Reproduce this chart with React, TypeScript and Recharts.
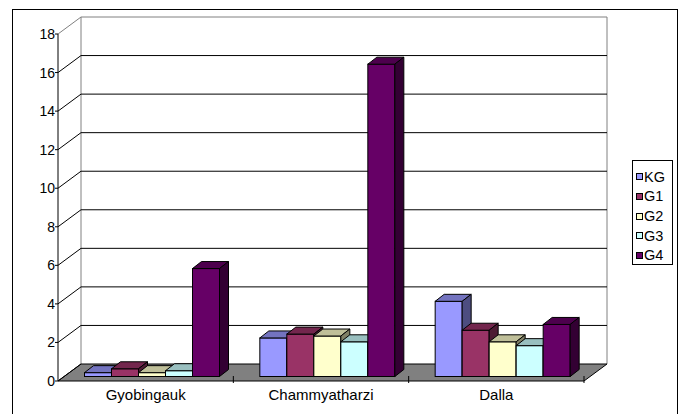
import React from "react";
import { BarChart, Bar, XAxis, YAxis, CartesianGrid, Legend } from "recharts";

const villages = ["Gyobingauk", "Chammyatharzi", "Dalla"];
const kgValues = [0.2, 2.0, 3.9];
const g1Values = [0.4, 2.2, 2.4];
const g2Values = [0.2, 2.1, 1.8];
const g3Values = [0.3, 1.8, 1.6];
const g4Values = [5.6, 16.2, 2.7];
const yTicks = [0, 2, 4, 6, 8, 10, 12, 14, 16, 18];

const series = [
  { name: "KG", values: kgValues, color: "#9999FF" },
  { name: "G1", values: g1Values, color: "#993366" },
  { name: "G2", values: g2Values, color: "#FFFFCC" },
  { name: "G3", values: g3Values, color: "#CCFFFF" },
  { name: "G4", values: g4Values, color: "#660066" },
]
const seriesOrder = series.map((s) => s.name)

const data = villages.map((name, i) => {
  const row: Record<string, string | number> = { name }
  series.forEach((s) => {
    row[s.name] = s.values[i]
  })
  return row
})

const FONT = '"Liberation Sans", Arial, sans-serif'

// oblique depth of the walls / floor
const WALL_DX = 23
const WALL_DY = 17
// where the columns sit inside the floor, and how deep they are
const BAR_SHIFT_X = 6.5
const BAR_SHIFT_Y = 4.5
const BAR_DX = 9
const BAR_DY = 7

function shade(hex: string, f: number) {
  const n = parseInt(hex.slice(1), 16)
  const r = Math.round(((n >> 16) & 255) * f)
  const g = Math.round(((n >> 8) & 255) * f)
  const b = Math.round((n & 255) * f)
  return `rgb(${r},${g},${b})`
}

const Column3D = (props: any) => {
  const { x, y, width, height, fill } = props
  if (x == null || y == null || !width) return null
  const h = Math.max(height || 0, 0)
  const fx = x + BAR_SHIFT_X
  const fy = y - BAR_SHIFT_Y
  const top = `${fx},${fy} ${fx + BAR_DX},${fy - BAR_DY} ${fx + width + BAR_DX},${fy - BAR_DY} ${fx + width},${fy}`
  const side = `${fx + width},${fy} ${fx + width + BAR_DX},${fy - BAR_DY} ${fx + width + BAR_DX},${fy + h - BAR_DY} ${fx + width},${fy + h}`
  return (
    <g>
      <rect x={fx} y={fy} width={width} height={h} fill={fill} stroke="#000" strokeWidth={1} />
      <polygon points={top} fill={shade(fill, 0.75)} stroke="#000" strokeWidth={1} />
      <polygon points={side} fill={shade(fill, 0.5)} stroke="#000" strokeWidth={1} />
    </g>
  )
}

// each value line: back-wall gridline + left-wall diagonal; the floor goes with the 0 line
const renderWallLine = (props: any) => {
  const { x1, x2, y1, y, height, key } = props
  const bottom = y + height
  const isFloor = Math.abs(y1 - bottom) < 0.5
  const isTop = Math.abs(y1 - y) < 0.5
  const lineColor = isTop ? "#808080" : "#000"
  return (
    <g key={key}>
      {isFloor && (
        <>
          <line x1={x1 + WALL_DX} y1={y - WALL_DY} x2={x1 + WALL_DX} y2={bottom - WALL_DY} stroke="#808080" />
          <line x1={x2 + WALL_DX} y1={y - WALL_DY} x2={x2 + WALL_DX} y2={bottom - WALL_DY} stroke="#808080" />
          <polygon
            points={`${x1},${bottom} ${x1 + WALL_DX},${bottom - WALL_DY} ${x2 + WALL_DX},${bottom - WALL_DY} ${x2},${bottom}`}
            fill="#808080"
            stroke="#000"
          />
        </>
      )}
      {!isFloor && (
        <line x1={x1 + WALL_DX} y1={y1 - WALL_DY} x2={x2 + WALL_DX} y2={y1 - WALL_DY} stroke={lineColor} />
      )}
      <line x1={x1} y1={y1} x2={x1 + WALL_DX} y2={y1 - WALL_DY} stroke={lineColor} />
    </g>
  )
}

// small marks between the villages on the front edge of the floor,
// drawn half a band to the right of each category centre
const renderCategoryMark = (props: any) => {
  const { x1, x, y, height, width, key } = props
  const band = width / villages.length
  const pos = (x1 - x) / band
  const isCentre = Math.abs(pos - Math.floor(pos) - 0.5) < 0.05
  if (!isCentre) return <g key={key} />
  const mx = x1 + band / 2
  const bottom = y + height
  return <line key={key} x1={mx} y1={bottom - 5} x2={mx} y2={bottom + 2} stroke="#000" />
}

const LegendBox = (props: any) => {
  const items = [...(props.payload || [])].sort(
    (a: any, b: any) => seriesOrder.indexOf(a.value) - seriesOrder.indexOf(b.value)
  )
  return (
    <div
      style={{
        width: 41,
        height: 105,
        border: "1px solid #000",
        boxSizing: "border-box",
        paddingTop: 6,
        background: "#fff",
        fontFamily: FONT,
        fontSize: 14.5,
        color: "#000",
      }}
    >
      {items.map((item: any) => (
        <div key={item.value} style={{ height: 19.7, display: "flex", alignItems: "center" }}>
          <span
            style={{
              display: "inline-block",
              width: 7,
              height: 7,
              marginLeft: 3,
              border: "1px solid #000",
              boxSizing: "border-box",
              background: item.color,
            }}
          />
          <span style={{ marginLeft: 1, lineHeight: 1 }}>{item.value}</span>
        </div>
      ))}
    </div>
  )
}

export default function App() {
  return (
    <div
      style={{
        position: "absolute",
        left: 0,
        top: 0,
        width: 678,
        height: 414,
        overflow: "hidden",
        background: "#fff",
      }}
    >
      <div
        style={{
          position: "absolute",
          left: 12,
          top: 9,
          width: 666,
          height: 420,
          border: "1px solid #000",
          boxSizing: "border-box",
        }}
      />
      <div style={{ position: "absolute", left: 0, top: 0 }}>
        <BarChart
          width={678}
          height={414}
          data={data}
          margin={{ top: 34, right: 94, left: 8, bottom: 3 }}
          barGap={0}
          barSize={27}
        >
          <CartesianGrid horizontal={renderWallLine} vertical={renderCategoryMark} />
          <XAxis
            dataKey="name"
            axisLine={false}
            tickLine={false}
            tickSize={0}
            tickMargin={8}
            height={30}
            interval={0}
            tick={{ fill: "#000", fontSize: 15, fontFamily: FONT }}
          />
          <YAxis
            domain={[0, 18]}
            ticks={yTicks}
            interval={0}
            width={50}
            tickSize={3}
            tickMargin={0}
            axisLine={{ stroke: "#000" }}
            tickLine={{ stroke: "#000" }}
            tick={{ fill: "#000", fontSize: 14, fontFamily: FONT }}
          />
          <Legend
            layout="vertical"
            align="center"
            verticalAlign="middle"
            content={LegendBox}
            wrapperStyle={{ left: 632, top: 160, width: 41 }}
          />
          {series.map((s) => (
            <Bar
              key={s.name}
              dataKey={s.name}
              name={s.name}
              fill={s.color}
              shape={Column3D}
              isAnimationActive={false}
            />
          ))}
        </BarChart>
      </div>
    </div>
  )
}
